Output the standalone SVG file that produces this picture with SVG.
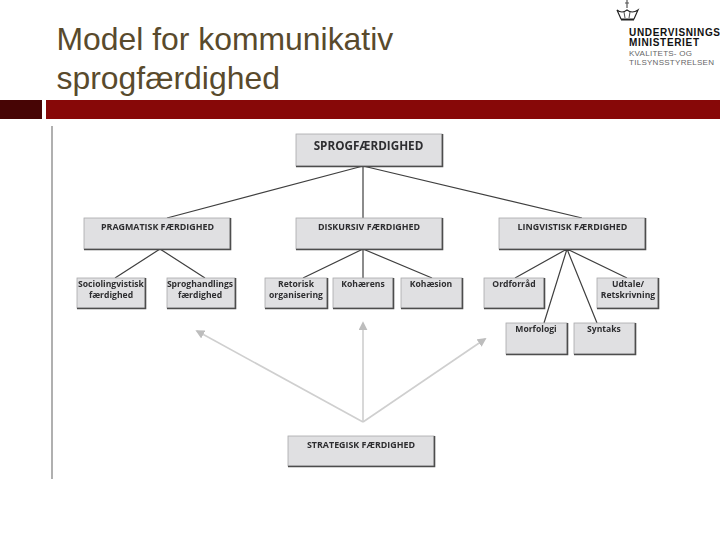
<svg xmlns="http://www.w3.org/2000/svg" width="720" height="540" viewBox="0 0 720 540">
<defs>
<filter id="soft" x="-5%" y="-30%" width="110%" height="160%"><feGaussianBlur stdDeviation="0.3"/></filter>
<marker id="ah" viewBox="0 0 10 10" refX="8" refY="5" markerWidth="9" markerHeight="9" markerUnits="userSpaceOnUse" orient="auto"><path d="M0 0L10 5L0 10z" fill="#bdbdbd"/></marker>
</defs>
<style>
.box{fill:#e0e0e2;stroke:#a9a9ab;stroke-width:.8}
.sh{fill:none;stroke:#4d4d4d;stroke-width:1.6}
.t{font-family:"Open Sans","Noto Sans",sans-serif;font-size:8.6px;font-weight:700;fill:#2e2e30;text-anchor:middle;filter:url(#soft)}
.cap{font-size:8.9px}
.big{font-size:11.700px}
.c{stroke:#3f3f3f;stroke-width:1.2;fill:none}
.g{stroke:#cfcfcf;stroke-width:1.6;fill:none;marker-end:url(#ah)}
.title{font-family:"Liberation Sans",Arial,sans-serif;font-size:31.9px;fill:#594a2c}
.lg{font-family:"Liberation Sans",Arial,sans-serif;font-size:10px;fill:#111}
.lg2{font-family:"Liberation Sans",Arial,sans-serif;font-size:8px;fill:#666}
</style>
<rect width="720" height="540" fill="#fff"/>
<text class="title" x="56.500" y="50">Model for kommunikativ</text>
<text class="title" x="56.500" y="89">sprogfærdighed</text>
<rect x="0" y="100" width="42" height="19" fill="#470505"/>
<rect x="46" y="100" width="674" height="19" fill="#870808"/>
<rect x="51" y="126" width="2" height="353" fill="#b0b0b0"/>
<g id="logo">
<path d="M627 0V8M625 3H629" stroke="#555" stroke-width="1.2" fill="none"/>
<path d="M617 10Q622 14 627 10Q632 14 638 10L634 19H621ZM621 20H634" fill="none" stroke="#222" stroke-width="1.2"/>
<path d="M624 12L625 18M630 12L629 18" stroke="#222" stroke-width=".8"/>
<text class="lg" x="629" y="36" font-weight="700" textLength="91">UNDERVISNINGS</text>
<text class="lg" x="629" y="46" font-weight="700" textLength="70">MINISTERIET</text>
<text class="lg2" x="629" y="56" textLength="63">KVALITETS- OG</text>
<text class="lg2" x="629" y="64.500" textLength="85">TILSYNSSTYRELSEN</text>
</g>
<g id="connectors">
<path class="c" d="M363 166L167 218M363 166V218M363 166L582 218"/>
<path class="c" d="M160 249L115 278M160 249L205 278"/>
<path class="c" d="M363 249L303 278M363 249V278M363 249L432 278"/>
<path class="c" d="M567 249L515 278M567 249L544 323M567 249L597 323M567 249L627 278"/>
<path class="g" d="M363 422L197 331"/>
<path class="g" d="M363 422V323"/>
<path class="g" d="M363 422L485 339"/>
</g>
<g id="n-sprog"><rect class="box" x="296" y="134" width="146" height="32"/><path class="sh" d="M296 166.500H442.500V134"/><text class="t big" x="368.500" y="150">SPROGFÆRDIGHED</text></g>
<g id="n-prag"><rect class="box" x="84" y="218" width="146" height="31"/><path class="sh" d="M84 249.500H230.500V218"/><text class="t cap" x="157.500" y="230">PRAGMATISK FÆRDIGHED</text></g>
<g id="n-disk"><rect class="box" x="296" y="218" width="146" height="31"/><path class="sh" d="M296 249.500H442.500V218"/><text class="t cap" x="369" y="230">DISKURSIV FÆRDIGHED</text></g>
<g id="n-ling"><rect class="box" x="499" y="218" width="146" height="31"/><path class="sh" d="M499 249.500H645.500V218"/><text class="t cap" x="572.500" y="230">LINGVISTISK FÆRDIGHED</text></g>
<g id="n-socio"><rect class="box" x="77" y="278" width="68" height="30"/><path class="sh" d="M77 308.500H145.500V278"/><text class="t" x="111" y="287">Sociolingvistisk</text><text class="t" x="111" y="298">færdighed</text></g>
<g id="n-handl"><rect class="box" x="167" y="278" width="68" height="30"/><path class="sh" d="M167 308.500H235.500V278"/><text class="t" x="200" y="287">Sproghandlings</text><text class="t" x="200" y="298">færdighed</text></g>
<g id="n-retor"><rect class="box" x="265" y="278" width="62" height="30"/><path class="sh" d="M265 308.500H327.500V278"/><text class="t" x="296" y="287">Retorisk</text><text class="t" x="296" y="298">organisering</text></g>
<g id="n-kohaer"><rect class="box" x="333" y="278" width="60" height="30"/><path class="sh" d="M333 308.500H393.500V278"/><text class="t" x="363" y="287">Kohærens</text></g>
<g id="n-kohaes"><rect class="box" x="401" y="278" width="61" height="30"/><path class="sh" d="M401 308.500H462.500V278"/><text class="t" x="431" y="287">Kohæsion</text></g>
<g id="n-ord"><rect class="box" x="484" y="278" width="60" height="30"/><path class="sh" d="M484 308.500H544.500V278"/><text class="t" x="514" y="287">Ordforråd</text></g>
<g id="n-udtale"><rect class="box" x="597" y="278" width="61" height="30"/><path class="sh" d="M597 308.500H658.500V278"/><text class="t" x="628" y="287">Udtale/</text><text class="t" x="628" y="298">Retskrivning</text></g>
<g id="n-morf"><rect class="box" x="506" y="323" width="61" height="31"/><path class="sh" d="M506 354.500H567.500V323"/><text class="t" x="536" y="332">Morfologi</text></g>
<g id="n-synt"><rect class="box" x="574" y="323" width="61" height="31"/><path class="sh" d="M574 354.500H635.500V323"/><text class="t" x="604" y="332">Syntaks</text></g>
<g id="n-strat"><rect class="box" x="288" y="436" width="146" height="30"/><path class="sh" d="M288 466.500H434.500V436"/><text class="t cap" x="361" y="448">STRATEGISK FÆRDIGHED</text></g>
</svg>
